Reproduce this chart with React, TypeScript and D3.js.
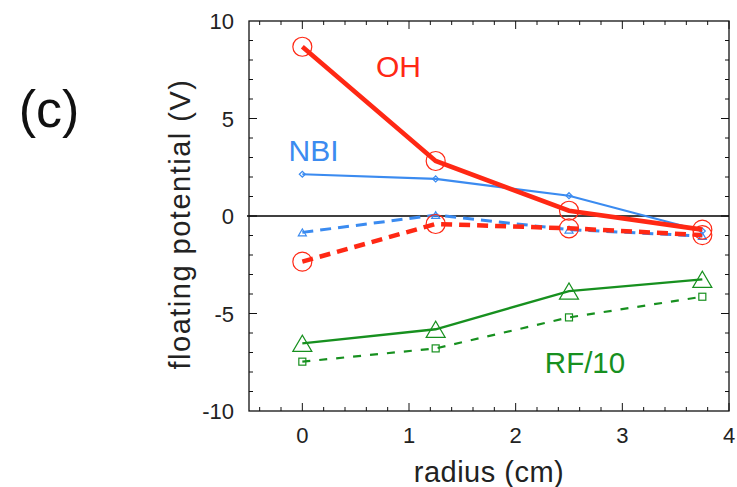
import React from 'react';
import * as d3 from 'd3';

const radius = [0, 1.25, 2.5, 3.75];
const ohSolid = [8.68, 2.82, 0.27, -0.7];
const ohDashed = [-2.34, -0.41, -0.63, -0.98];
const nbiSolid = [2.14, 1.9, 1.04, -0.77];
const nbiDashed = [-0.84, 0.05, -0.7, -1.03];
const rfSolid = [-6.53, -5.81, -3.85, -3.25];
const rfDashed = [-7.47, -6.79, -5.2, -4.14];
const xTicks = [0, 1, 2, 3, 4];
const yTicks = [-10, -5, 0, 5, 10];

const W = 737, H = 487;
const margin = { top: 21, left: 249, right: 8, bottom: 76 };
const red = '#ff2814', blue = '#3b8bf0', green = '#17901f';
const font = 'Liberation Sans, Arial, Helvetica, sans-serif';

const x = d3.scaleLinear().domain([-0.5, 4]).range([margin.left, W - margin.right]);
const y = d3.scaleLinear().domain([-10, 10]).range([H - margin.bottom, margin.top]);
const line = d3.line<[number, number]>().x(d => x(d[0])).y(d => y(d[1]));

type Series = { vals: number[], color: string, width: number, dash?: string, marker: string, size: number };
const series: Series[] = [
  { vals: rfDashed, color: green, width: 2.2, dash: '8,9', marker: 'square', size: 7 },
  { vals: rfSolid, color: green, width: 2.4, marker: 'bigtri', size: 19 },
  { vals: nbiDashed, color: blue, width: 3, dash: '11,7', marker: 'tri', size: 8 },
  { vals: ohDashed, color: red, width: 4.5, dash: '11,7', marker: 'circle', size: 9.5 },
  { vals: nbiSolid, color: blue, width: 2.2, marker: 'diamond', size: 6 },
  { vals: ohSolid, color: red, width: 4.6, marker: 'circle', size: 9.5 },
];

function Marker({ kind, cx, cy, size, color }: { kind: string, cx: number, cy: number, size: number, color: string }) {
  if (kind === 'circle') return <circle cx={cx} cy={cy} r={size} fill="none" stroke={color} strokeWidth={1.2} />;
  if (kind === 'square') return <rect x={cx - size / 2} y={cy - size / 2} width={size} height={size} fill="none" stroke={color} strokeWidth={1.2} />;
  if (kind === 'diamond') {
    const s = size / 2;
    return <path d={`M${cx - s},${cy}L${cx},${cy - s}L${cx + s},${cy}L${cx},${cy + s}Z`} fill="none" stroke={color} strokeWidth={1.2} />;
  }
  const s = size / 2, h = size * 0.85;
  return <path d={`M${cx - s},${cy + h / 2}L${cx + s},${cy + h / 2}L${cx},${cy - h / 2}Z`} fill="none" stroke={color} strokeWidth={1.2} />;
}

export default function App() {
  const [x0, x1] = x.range();
  const [yb, yt] = y.range();
  const xMinor = d3.range(-0.4, 4.0001, 0.2).map(v => +v.toFixed(1));
  const yMinor = d3.range(-9, 10, 1);
  return (
    <svg width={W} height={H} style={{ position: 'absolute', left: 0, top: 0 }} fontFamily={font}>
      <rect width={W} height={H} fill="#fff" />
      <text x={49} y={127} fontSize={52} textAnchor="middle" fill="#111">(c)</text>

      {/* ticks */}
      <g stroke="#111" strokeWidth={1}>
        {xMinor.map(v => {
          const major = Math.abs(v - Math.round(v)) < 1e-6;
          const len = major ? 8 : 4;
          return <g key={'x' + v}>
            <line x1={x(v)} x2={x(v)} y1={yb} y2={yb - len} />
            <line x1={x(v)} x2={x(v)} y1={yt} y2={yt + len} />
          </g>;
        })}
        {yMinor.map(v => {
          const len = v % 5 === 0 ? 8 : 4;
          return <g key={'y' + v}>
            <line x1={x0} x2={x0 + len} y1={y(v)} y2={y(v)} />
            <line x1={x1} x2={x1 - len} y1={y(v)} y2={y(v)} />
          </g>;
        })}
      </g>
      <line x1={x0 - 2} x2={x1} y1={y(0)} y2={y(0)} stroke="#000" strokeWidth={1.3} />

      {series.map((s, i) => (
        <g key={i}>
          <path d={line(radius.map((r, j) => [r, s.vals[j]]) as [number, number][]) || ''}
            fill="none" stroke={s.color} strokeWidth={s.width} strokeDasharray={s.dash} />
          {radius.map((r, j) => (
            <Marker key={j} kind={s.marker} cx={x(r)} cy={y(s.vals[j])} size={s.size} color={s.color} />
          ))}
        </g>
      ))}

      <rect x={x0} y={yt} width={x1 - x0} height={yb - yt} fill="none" stroke="#111" strokeWidth={1.3} />

      {xTicks.map(v => (
        <text key={v} x={x(v)} y={yb + 32} fontSize={22} textAnchor="middle" fill="#222">{v}</text>
      ))}
      {yTicks.map(v => (
        <text key={v} x={x0 - 15} y={y(v) + 8} fontSize={22} textAnchor="end" fill="#222">{v}</text>
      ))}

      <text x={489} y={482} fontSize={29} letterSpacing={0.5} textAnchor="middle" fill="#222">radius (cm)</text>
      <text transform={`translate(190,224) rotate(-90)`} fontSize={29} letterSpacing={1.5} textAnchor="middle" fill="#222">floating potential (V)</text>

      <text x={398.5} y={77} fontSize={30} textAnchor="middle" fill={red}>OH</text>
      <text x={313.5} y={161} fontSize={30} textAnchor="middle" fill={blue}>NBI</text>
      <text x={585} y={373} fontSize={29.5} textAnchor="middle" fill={green}>RF/10</text>
    </svg>
  );
}
